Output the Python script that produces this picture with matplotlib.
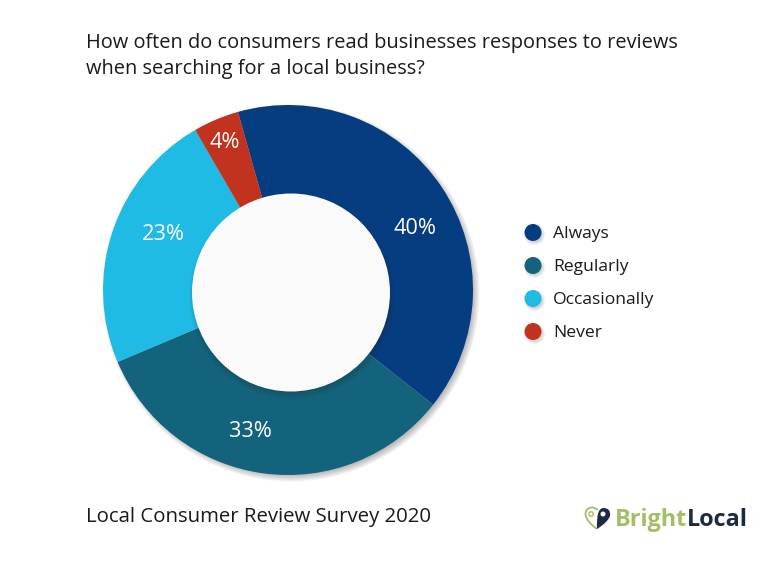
import matplotlib
matplotlib.use('Agg')
import matplotlib.pyplot as plt
from matplotlib.patches import Circle, PathPatch
from matplotlib.path import Path

plt.rcParams['font.family'] = ['Open Sans', 'DejaVu Sans']

labels = ['Always', 'Regularly', 'Occasionally', 'Never']
shares = [40, 33, 23, 4]
colors = ['#063c80', '#14637c', '#1fbbe4', '#c2331f']
title = "How often do consumers read businesses responses to reviews\nwhen searching for a local business?"
footer = "Local Consumer Review Survey 2020"

W, H = 768, 561
fig = plt.figure(figsize=(W / 100, H / 100), dpi=100, facecolor='white')

# one layer in pixel coordinates for shadows, legend and logo
bg = fig.add_axes([0, 0, 1, 1])
bg.set_xlim(0, W)
bg.set_ylim(H, 0)
bg.axis('off')

cx, cy, r_out, r_in = 288, 290, 185, 99


def soft_shadow(ax, x, y, r, dx, dy, spread, zorder, alpha=0.05):
    # stacked see-through circles stand in for a blur
    for i in range(spread):
        ax.add_patch(Circle((x + dx, y + dy), r + spread / 2 - i, fc='#303030',
                            ec='none', alpha=alpha, zorder=zorder))


soft_shadow(bg, cx, cy, r_out, 3, 3, 7, 1)

# the donut
ax = fig.add_axes([(cx - r_out) / W, 1 - (cy + r_out) / H, 2 * r_out / W, 2 * r_out / H], zorder=2)
ax.pie(shares, colors=colors, startangle=105.7, counterclock=False, radius=1,
       wedgeprops={'linewidth': 0})
ax.set_xlim(-1, 1)
ax.set_ylim(-1, 1)
ax.patch.set_alpha(0)

# hole with its own shadow
hole_x, hole_y = 291, 292.5
front = fig.add_axes([0, 0, 1, 1], zorder=3)
front.set_xlim(0, W)
front.set_ylim(H, 0)
front.axis('off')
soft_shadow(front, hole_x, hole_y, r_in, 1, 4, 8, 1, alpha=0.035)
front.add_patch(Circle((hole_x, hole_y), r_in, fc='#fafafa', ec='none', zorder=2))

# percent labels
label_x = [415, 250, 163, 225]
label_y = [228, 431, 234, 142]
for x, y, v in zip(label_x, label_y, shares):
    front.text(x, y, f'{v}%', color='white', fontsize=15.7, ha='center', va='center', zorder=4)

# legend
legend_y = [232.5, 265.5, 298.5, 331.5]
for name, col, y in zip(labels, colors, legend_y):
    soft_shadow(front, 533, y, 8.5, 1.5, 2, 4, 1, alpha=0.06)
    front.add_patch(Circle((533, y), 8.5, fc=col, ec='none', zorder=2))
    front.text(553, y + 1.5, name, color='#1a1a1a', fontsize=12.6, ha='left', va='center', zorder=4)

# title and footer
front.text(86, 56, title, color='#1a1a1a', fontsize=14.4, ha='left', va='center', linespacing=1.38)
front.text(86, 517, footer, color='#1a1a1a', fontsize=14.67, ha='left', va='center')

# logo: heart outline plus map pin, then the word mark
green = '#a3bf66'
navy = '#1c2b3f'
heart = Path([(597, 529), (587, 522), (585.5, 515), (585, 508), (592, 507.5), (595, 507.5), (598, 510)],
             [Path.MOVETO, Path.CURVE3, Path.CURVE3, Path.CURVE3, Path.CURVE3, Path.CURVE3, Path.CURVE3])
front.add_patch(PathPatch(heart, fc='none', ec=green, lw=1.3))
front.add_patch(Circle((591, 514), 2.2, fc='none', ec=green, lw=1))
pin = Path([(597, 529), (596, 508), (603.5, 508), (611, 508), (610, 516), (608, 522), (597, 529)],
           [Path.MOVETO, Path.CURVE3, Path.CURVE3, Path.CURVE3, Path.CURVE3, Path.CURVE3, Path.CURVE3])
front.add_patch(PathPatch(pin, fc=navy, ec='none'))
front.add_patch(Circle((603, 514), 2.5, fc='white', ec='none'))
bright = front.text(614.5, 520, 'Bright', color=green, fontsize=16.8, fontweight='bold', ha='left', va='center')
fig.canvas.draw()
box = bright.get_window_extent()
front.text(box.x1 / fig.dpi * 100, 520, 'Local', color=navy, fontsize=16.8, fontweight='bold', ha='left', va='center')

fig.savefig('out.png', dpi=100)
